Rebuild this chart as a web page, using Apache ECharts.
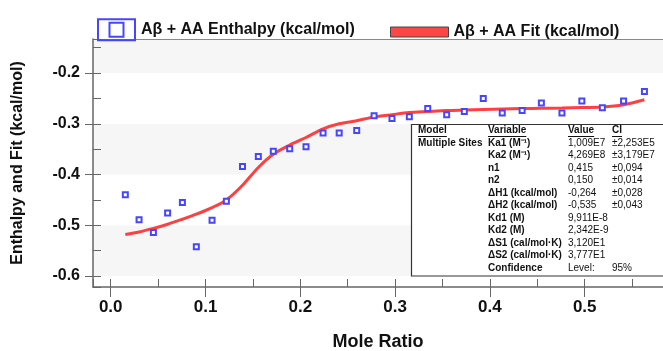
<!DOCTYPE html>
<html>
<head>
<meta charset="utf-8">
<script src="https://cdn.jsdelivr.net/npm/echarts@6/dist/echarts.min.js"></script>
<style>
    html, body { margin: 0; padding: 0; background: #fff; }
    #chart { width: 663px; height: 351px; }
</style>
</head>
<body>
<div id="chart"></div>
<script>
// mole ratio of each injection
const moleRatio = [0.0154, 0.0299, 0.045, 0.060, 0.0756, 0.0903, 0.1069, 0.122, 0.139, 0.1557,
    0.1715, 0.1888, 0.206, 0.224, 0.241, 0.2595, 0.2778, 0.2967, 0.315, 0.3344,
    0.3544, 0.373, 0.393, 0.413, 0.434, 0.4543, 0.476, 0.497, 0.5186, 0.541, 0.563]
const enthalpy = [-0.440, -0.489, -0.514, -0.4755, -0.455, -0.542, -0.490, -0.4525, -0.384, -0.3645,
    -0.354, -0.349, -0.345, -0.318, -0.318, -0.313, -0.2842, -0.2895, -0.286, -0.2698,
    -0.2823, -0.2757, -0.250, -0.279, -0.2737, -0.259, -0.279, -0.2553, -0.2685, -0.2553, -0.2363]
const fit = [-0.518, -0.513, -0.506, -0.498, -0.488, -0.478, -0.465, -0.450, -0.421, -0.386,
    -0.360, -0.342, -0.327, -0.310, -0.300, -0.294, -0.2865, -0.282, -0.278, -0.276,
    -0.274, -0.273, -0.272, -0.271, -0.270, -0.2695, -0.269, -0.268, -0.267, -0.2625, -0.2527]

const seriesNames = ['Aβ + AA Enthalpy (kcal/mol)', 'Aβ + AA Fit (kcal/mol)']

// fit result table
const tableHeader = ['Model', 'Variable', 'Value', 'CI']
const tableModel = ['Multiple Sites']
const tableVariables = ['Ka1 (M⁻¹)', 'Ka2 (M⁻¹)', 'n1', 'n2', 'ΔH1 (kcal/mol)', 'ΔH2 (kcal/mol)',
    'Kd1 (M)', 'Kd2 (M)', 'ΔS1 (cal/mol·K)', 'ΔS2 (cal/mol·K)', 'Confidence']
const tableValues = ['1,009E7', '4,269E8', '0,415', '0,150', '-0,264', '-0,535',
    '9,911E-8', '2,342E-9', '3,120E1', '3,777E1', 'Level:']
const tableCI = ['±2,253E5', '±3,179E7', '±0,094', '±0,014', '±0,028', '±0,043', '', '', '', '', '95%']

const FONT = '"Liberation Sans", Arial, sans-serif'
const AXIS_COLOR = '#666'

function textWidth(text, font) {
    const ctx = document.createElement('canvas').getContext('2d')
    ctx.font = font
    return ctx.measureText(text).width
}

function buildTable() {
    const left = 411.5, top = 124.5
    const colX = [418, 488, 568, 612]
    const rowY = i => 130.5 + i * 12.5
    const items = [{
        type: 'rect',
        shape: { x: left, y: top, width: 260, height: 151.5 },
        style: { fill: '#fff', stroke: '#333', lineWidth: 1.2 },
        z: 100
    }]
    const addText = (text, x, y, bold) => {
        if (!text) return
        items.push({
            type: 'text', x, y, z: 101,
            style: {
                text, fill: '#111', font: `${bold ? 'bold ' : ''}10px ${FONT}`,
                verticalAlign: 'middle'
            }
        })
    }
    tableHeader.forEach((h, i) => {
        addText(h, colX[i], rowY(0), true)
        const w = textWidth(h, `bold 10px ${FONT}`)
        items.push({
            type: 'line', z: 101,
            shape: { x1: colX[i], y1: rowY(0) + 6, x2: colX[i] + w, y2: rowY(0) + 6 },
            style: { stroke: '#111', lineWidth: 1 }
        })
    })
    tableModel.forEach((m, i) => addText(m, colX[0], rowY(i + 1), true))
    tableVariables.forEach((v, i) => addText(v, colX[1], rowY(i + 1), true))
    tableValues.forEach((v, i) => addText(v, colX[2], rowY(i + 1), false))
    tableCI.forEach((v, i) => addText(v, colX[3], rowY(i + 1), false))
    return items
}

const chart = echarts.init(document.getElementById('chart'))

const labelStyle = { color: '#111', fontWeight: 'bold', fontSize: 16, fontFamily: FONT }

const option = {
    animation: false,
    textStyle: { fontFamily: FONT },
    legend: [
        {
            left: 92, top: 13.3,
            itemWidth: 37, itemHeight: 21,
            data: [{ name: seriesNames[0], icon: 'path://M0,0H37V21H0Z M11.5,3.5H25.5V17.5H11.5Z' }],
            itemStyle: { color: 'rgba(0,0,0,0)', borderColor: '#4646ff', borderWidth: 2 },
            textStyle: { fontSize: 16, fontWeight: 'bold', color: '#111', fontFamily: FONT, padding: [0, 0, 0, 1] }
        },
        {
            left: 385, top: 19,
            itemWidth: 58, itemHeight: 10,
            data: [{ name: seriesNames[1], icon: 'rect' }],
            itemStyle: { color: '#ff4646', borderColor: '#444', borderWidth: 1 },
            textStyle: { fontSize: 16, fontWeight: 'bold', color: '#111', fontFamily: FONT, padding: [0, 0, 0, 0] }
        }
    ],
    grid: { left: 93, right: 0, top: 39, bottom: 64, outerBoundsMode: 'none' },
    xAxis: [
        {
            type: 'value', min: -0.0187, max: 0.5826, splitNumber: 6,
            name: 'Mole Ratio', nameLocation: 'middle', nameGap: 46,
            nameTextStyle: { fontSize: 18, fontWeight: 'bold', color: '#111', fontFamily: FONT },
            axisLine: { onZero: false, lineStyle: { color: AXIS_COLOR, width: 1.5 } },
            axisTick: { show: true, length: 10, lineStyle: { color: AXIS_COLOR } },
            axisLabel: { ...labelStyle, fontSize: 17, margin: 12, showMinLabel: false, showMaxLabel: false,
                formatter: v => v.toFixed(1) },
            splitLine: { show: false }
        },
        {
            type: 'value', position: 'bottom', min: -0.0187, max: 0.5826, splitNumber: 6,
            axisLine: { show: false, onZero: false },
            axisTick: { show: true, inside: true, length: 8, lineStyle: { color: AXIS_COLOR } },
            minorTick: { show: true, splitNumber: 2, length: 8, lineStyle: { color: AXIS_COLOR } },
            axisLabel: { show: false },
            splitLine: { show: false }
        },
        {
            type: 'value', position: 'top', min: -0.0187, max: 0.5826,
            axisLine: { onZero: false, lineStyle: { color: '#888', width: 1 } },
            axisTick: { show: false }, axisLabel: { show: false }, splitLine: { show: false }
        }
    ],
    yAxis: [
        {
            type: 'value', min: -0.6215, max: -0.133, splitNumber: 5,
            name: 'Enthalpy and Fit (kcal/mol)', nameLocation: 'middle', nameGap: 67,
            nameTextStyle: { fontSize: 16, fontWeight: 'bold', color: '#111', fontFamily: FONT },
            axisLine: { show: true, onZero: false, lineStyle: { color: AXIS_COLOR, width: 1.5 } },
            axisTick: { show: true, length: 8, lineStyle: { color: AXIS_COLOR } },
            axisLabel: { ...labelStyle, margin: 13, showMinLabel: false, showMaxLabel: false,
                formatter: v => v.toFixed(1) },
            splitLine: { show: false },
            splitArea: { show: true, areaStyle: { color: ['#ffffff', '#f6f6f6'] } }
        },
        {
            type: 'value', position: 'left', min: -0.6215, max: -0.133, splitNumber: 5,
            axisLine: { show: false, onZero: false },
            axisTick: { show: true, inside: true, length: 8, lineStyle: { color: AXIS_COLOR } },
            minorTick: { show: true, splitNumber: 2, length: 8, lineStyle: { color: AXIS_COLOR } },
            axisLabel: { show: false },
            splitLine: { show: false }
        }
    ],
    series: [
        {
            name: seriesNames[1],
            type: 'line',
            data: moleRatio.map((x, i) => [x, fit[i]]),
            smooth: 0.3,
            showSymbol: false,
            lineStyle: { color: '#ff4040', width: 3 },
            itemStyle: { color: '#ff4646' },
            z: 2
        },
        {
            name: seriesNames[0],
            type: 'scatter',
            data: moleRatio.map((x, i) => [x, enthalpy[i]]),
            symbol: 'rect',
            symbolSize: 5,
            itemStyle: { color: '#fff', borderColor: '#4646ff', borderWidth: 2, opacity: 1 },
            z: 3
        }
    ],
    graphic: buildTable()
}

chart.setOption(option)
</script>
</body>
</html>
